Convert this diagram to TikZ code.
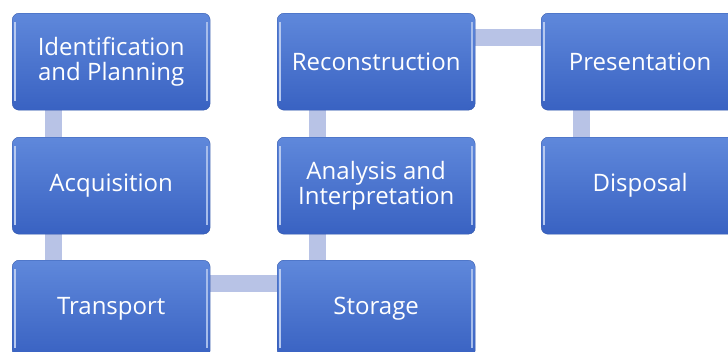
\documentclass[tikz,border=0pt]{standalone}
\usepackage{fontspec}
\setmainfont{Open Sans}
\usepackage{tikz}
\usetikzlibrary{backgrounds}
\definecolor{boxtop}{HTML}{5F88DB}
\definecolor{boxbot}{HTML}{3962C2}
\definecolor{boxline}{HTML}{3358AC}
\definecolor{linkcol}{HTML}{B8C3E6}

\begin{document}
\begin{tikzpicture}[
			x=1pt, y=-1pt,
			font=\fontsize{24}{25}\selectfont,
			stage/.style={
				rectangle,
				rounded corners=7pt,
				draw=boxline,
				top color=boxtop,
				bottom color=boxbot,
				text=white,
				align=center,
				anchor=north west,
				minimum width=198pt,
				minimum height=97pt,
				path picture={
					\draw [white!55!boxtop, line width=1.6pt]
					([xshift=3pt, yshift=-9pt]path picture bounding box.north west) --
					([xshift=3pt, yshift=9pt]path picture bounding box.south west);
					\draw [white!45!boxtop, line width=1.6pt]
					([xshift=-3pt, yshift=-9pt]path picture bounding box.north east) --
					([xshift=-3pt, yshift=9pt]path picture bounding box.south east);
				}
			},
			link/.style={
				draw=linkcol,
				line width=17pt
			}
			]
			\clip (0,0) rectangle (728,351);
			
			% the stages, three columns
			\node [stage] (ident) at (12,13) {Identification\\and Planning};
			\node [stage] (acq) at (12,137) {Acquisition};
			\node [stage] (trans) at (12,260) {Transport};
			
			\node [stage] (recon) at (277,13) {Reconstruction};
			\node [stage] (anal) at (277,137) {Analysis and\\Interpretation};
			\node [stage] (stor) at (277,260) {Storage};
			
			\node [stage] (pres) at (541,13) {Presentation};
			\node [stage] (disp) at (541,137) {Disposal};
			
			% connecting bars behind the stages
			\begin{scope}[on background layer]
			\fill [white] (0,0) rectangle (728,351);
			\draw [link] ([xshift=41pt]ident.south west) -- ([xshift=41pt]acq.north west);
			\draw [link] ([xshift=41pt]acq.south west) -- ([xshift=41pt]trans.north west);
			\draw [link] ([yshift=-23.5pt]trans.north east) -- ([yshift=-23.5pt]stor.north west);
			\draw [link] ([xshift=40pt]stor.north west) -- ([xshift=40pt]anal.south west);
			\draw [link] ([xshift=40pt]anal.north west) -- ([xshift=40pt]recon.south west);
			\draw [link] ([yshift=-24.5pt]recon.north east) -- ([yshift=-24.5pt]pres.north west);
			\draw [link] ([xshift=40.5pt]pres.south west) -- ([xshift=40.5pt]disp.north west);
			\end{scope}
			
			\end{tikzpicture}
\end{document}
